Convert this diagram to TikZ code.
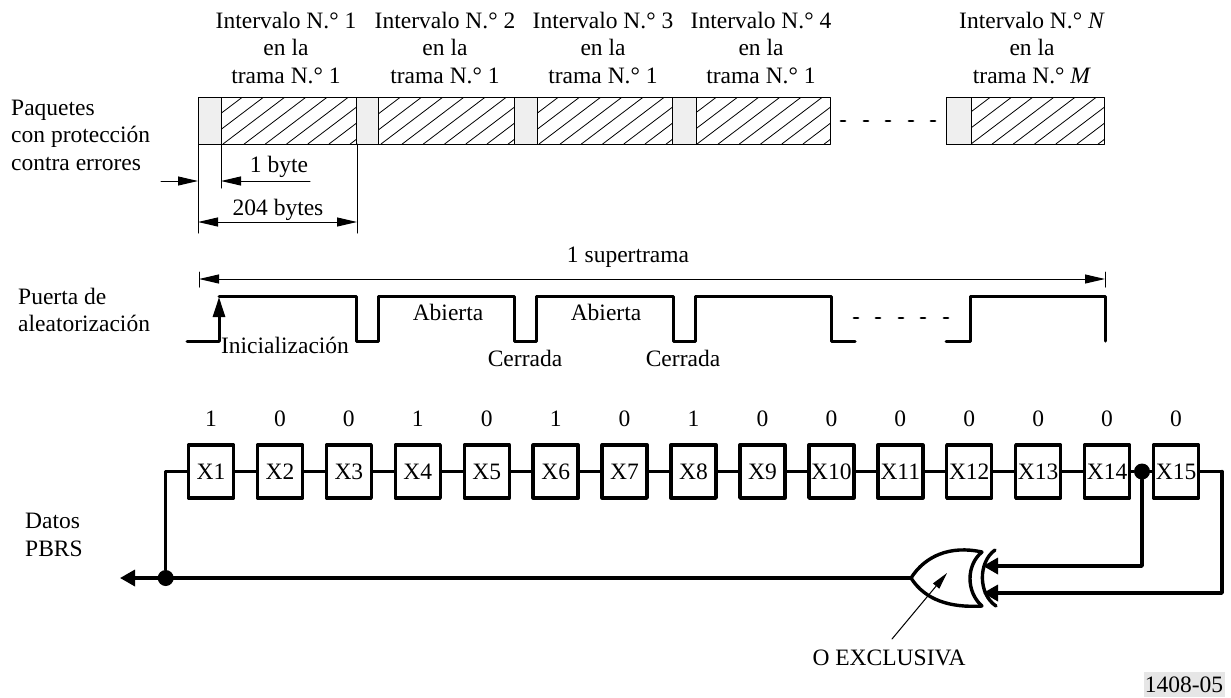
\documentclass[tikz,border=0pt]{standalone}
\usepackage{fontspec}
\setmainfont{Liberation Serif}
\usepackage{xcolor}
\usetikzlibrary{arrows.meta}
\definecolor{headgrey}{HTML}{EFEFEF}
\definecolor{taggrey}{HTML}{E6E6E6}
\tikzset{
    txt/.style={font=\fontsize{23.5}{27.5}\selectfont,inner sep=0pt,align=center},
    txtleft/.style={txt,align=left,anchor=west},
    thinline/.style={line width=1pt},
    wire/.style={line width=3.4pt},
    pulse/.style={line width=3pt},
    dimtip/.style={-{Triangle[length=20pt,width=9pt]}},
    dimarrow/.style={thinline,dimtip},
    dimboth/.style={thinline,{Triangle[length=20pt,width=9pt]}-{Triangle[length=20pt,width=9pt]}},
    wirearrow/.style={wire,-{Triangle[length=15pt,width=16pt]}},
    reg/.style={draw,line width=3.4pt,rectangle,minimum width=45pt,minimum height=53pt,inner sep=0pt,font=\fontsize{23.5}{27.5}\selectfont,text height=16pt,text depth=0pt},
    junction/.style={circle,fill=black,inner sep=0pt,minimum size=16pt},
    dotted row/.style={line width=2.8pt,line cap=round}
}
\begin{document}
\begin{tikzpicture}[line cap=round,line join=round,x=1pt,y=-1pt]
    \useasboundingbox (0,0) rectangle (1231,697);
    % packets
    \foreach \px/\gx in {198/221,356/378,514/537,672/696,946/971}{
        \begin{scope}
            \clip (\px,97) rectangle ++(158.5,47);
            \foreach \k in {-3,...,7}
                \draw [line width=0.8pt] (\px+25+21.2*\k,144) -- ++(62,-47);
        \end{scope}
        \draw [thinline,fill=headgrey] (\px,97) rectangle (\gx,144);
        \draw [thinline] (\px,97) rectangle ++(158.5,47);
    }
    \node [txt] (title1) at (286,48) {Intervalo N.° 1\\en la\\trama N.° 1};
    \node [txt] (title2) at (445,48) {Intervalo N.° 2\\en la\\trama N.° 1};
    \node [txt] (title3) at (603,48) {Intervalo N.° 3\\en la\\trama N.° 1};
    \node [txt] (title4) at (761,48) {Intervalo N.° 4\\en la\\trama N.° 1};
    \node [txt] (titleN) at (1032,48) {Intervalo N.° \textit{N}\\en la\\trama N.° \textit{M}};
    \node [txtleft] (paquetes) at (11,135) {Paquetes\\con protección\\contra errores};
    \foreach \dx in {843,866,888,911,933}
        \draw [dotted row] (\dx-2,121) -- (\dx+2,121);
    % dimensions below the first packet
    \coordinate (a0) at (198,144);
    \coordinate (a1) at (221,144);
    \coordinate (a2) at (357,144);
    \coordinate (a0b) at (198,233);
    \coordinate (a1b) at (221,188);
    \coordinate (a2b) at (357,233);
    \draw [thinline] (a0) -- (a0b);
    \draw [thinline] (a1) -- (a1b);
    \draw [thinline] (a2) -- (a2b);
    \coordinate (byteL) at (161,181);
    \coordinate (byteM) at (198,181);
    \coordinate (byteN) at (221,181);
    \coordinate (byteR) at (310,181);
    \draw [dimarrow] (byteL) -- (byteM);
    \draw [dimarrow] (byteR) -- (byteN);
    \node [txt] (onebyte) at (279,167) {1 byte};
    \coordinate (bytesL) at (198,222);
    \coordinate (bytesR) at (357,222);
    \draw [dimboth] (bytesL) -- (bytesR);
    \node [txt] (bytes) at (278,210) {204 bytes};
    % supertrama
    \coordinate (superL) at (199,279);
    \coordinate (superR) at (1105,279);
    \draw [dimboth] (superL) -- (superR);
    \draw [thinline] (199,272) -- (199,287);
    \draw [thinline] (1105,272) -- (1105,287);
    \node [txt] (supertrama) at (628,257) {1 supertrama};
    % gate
    \node [txtleft] (puerta) at (18,310) {Puerta de\\aleatorización};
    \draw [pulse] (187,341) -- (219,341);
    \draw [pulse,-{Triangle[length=20pt,width=12pt]}] (219,341) -- (219,297);
    \draw [pulse] (219,296) -- (356,296) -- (356,341) -- (378,341) -- (378,296) -- (514,296) -- (514,341) -- (536,341) -- (536,296) -- (673,296) -- (673,341) -- (695,341) -- (695,296) -- (831,296) -- (831,341) -- (855,341);
    \draw [pulse] (946,341) -- (970,341) -- (970,296) -- (1105,296) -- (1105,341);
    \foreach \dx in {856,878,901,923,946}
        \draw [dotted row] (\dx-2,318) -- (\dx+2,318);
    \node [txt] (inicial) at (285,345) {Inicialización};
    \node [txt] (abierta1) at (448,312) {Abierta};
    \node [txt] (abierta2) at (606,312) {Abierta};
    \node [txt] (cerrada1) at (525,358) {Cerrada};
    \node [txt] (cerrada2) at (683,358) {Cerrada};
    % register
    \foreach \i [evaluate=\i as \rx using 211+68.93*(\i-1)] in {1,...,15}
        \node [reg] (x\i) at (\rx,471.5) {X\i};
    \foreach \b [count=\i] in {1,0,0,1,0,1,0,1,0,0,0,0,0,0,0}
        \node [txt,above=44.5pt] (bit\i) at (x\i.center) {\b};
    \foreach \i [evaluate=\i as \j using int(\i+1)] in {1,...,13}
        \draw [wire] (x\i) -- (x\j);
    \node [junction] (tap) at (1142,471.5) {};
    \draw [wire] (x14) -- (tap) -- (x15);
    % xor
    \coordinate (xorout) at (911,578);
    \coordinate (xorin1) at (983,566);
    \coordinate (xorin2) at (983,593);
    \draw [wire] (xorout) .. controls (925,556) and (950,545) .. (982,552);
    \draw [wire] (xorout) .. controls (925,600) and (950,608) .. (982,606);
    \draw [wire] (982,552) .. controls (966,565) and (966,592) .. (982,606);
    \draw [wire] (995,550) .. controls (978,562) and (978,594) .. (996,606);
    \draw [wirearrow] (tap) |- (xorin1);
    \coordinate (bend) at (1222,471.5);
    \draw [wire] (x15) -- (bend);
    \draw [wirearrow] (bend) |- (xorin2);
    \node [junction] (outdot) at (165.7,578) {};
    \coordinate (outend) at (120,578);
    \draw [wirearrow] (xorout) -- (outend);
    \draw [wire] (outdot) |- (x1);
    \node [txtleft] (datos) at (25,535) {Datos\\PBRS};
    \coordinate (xorlabel) at (892,639);
    \coordinate (xorbody) at (947,573);
    \draw [thinline,-{Triangle[length=17pt,width=8pt]}] (xorlabel) -- (xorbody);
    \node [txt] (exclusiva) at (889,658) {O EXCLUSIVA};
    \node [txt,fill=taggrey,minimum width=81pt,minimum height=25pt] (tag) at (1184,684.5) {1408-05};
\end{tikzpicture}
\end{document}
